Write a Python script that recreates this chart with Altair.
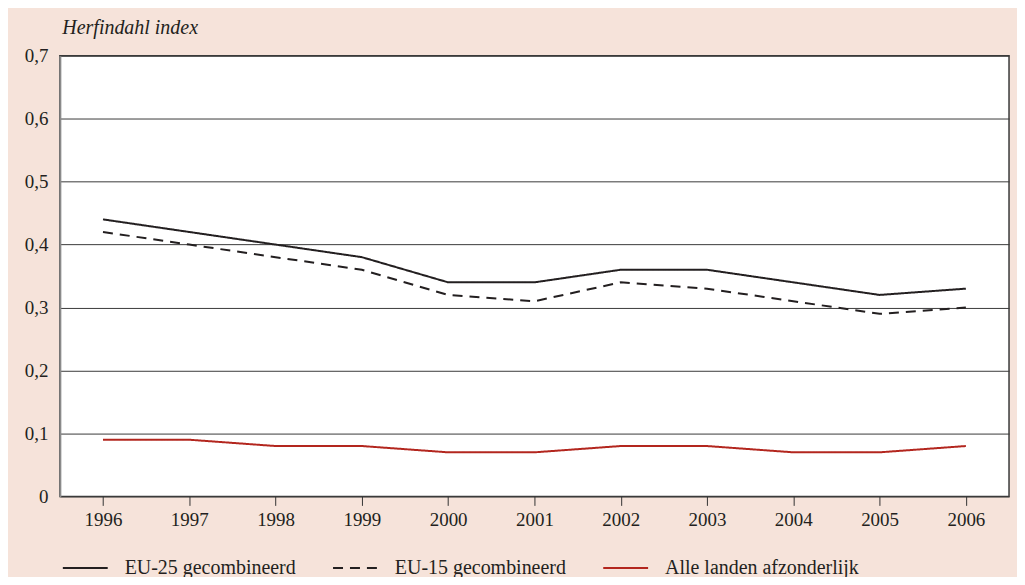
import altair as alt
import pandas as pd

years = [1996, 1997, 1998, 1999, 2000, 2001, 2002, 2003, 2004, 2005, 2006]
eu25 = [0.44, 0.42, 0.40, 0.38, 0.34, 0.34, 0.36, 0.36, 0.34, 0.32, 0.33]
eu15 = [0.42, 0.40, 0.38, 0.36, 0.32, 0.31, 0.34, 0.33, 0.31, 0.29, 0.30]
alle = [0.09, 0.09, 0.08, 0.08, 0.07, 0.07, 0.08, 0.08, 0.07, 0.07, 0.08]
series_names = ["EU-25 gecombineerd", "EU-15 gecombineerd", "Alle landen afzonderlijk"]
series_colors = ["#231f20", "#231f20", "#b3261e"]
series_dash = [[1, 0], [10, 7], [1, 0]]
y_ticks = [0, 0.1, 0.2, 0.3, 0.4, 0.5, 0.6, 0.7]

rows = []
for name, vals in zip(series_names, [eu25, eu15, alle]):
    for y, v in zip(years, vals):
        rows.append({"jaar": y, "waarde": v, "reeks": name})
df = pd.DataFrame(rows)

FONT = "Liberation Serif"

legend_kw = dict(
    title=None,
    orient="none",
    legendX=2,
    legendY=490,
    direction="horizontal",
    columns=3,
    gridAlign="all",
    symbolType="stroke",
    symbolSize=2025,
    symbolStrokeWidth=2,
    labelOffset=16,
    labelLimit=400,
    columnPadding=10,
    labelFont=FONT,
    labelFontSize=20,
    labelColor="#231f20",
)

chart = alt.Chart(df).mark_line(strokeWidth=2).encode(
    x=alt.X(
        "jaar:Q",
        scale=alt.Scale(domain=[1995.5, 2006.5], nice=False, zero=False),
        axis=alt.Axis(
            values=years,
            format="d",
            title=None,
            grid=False,
            ticks=True,
            tickSize=9,
            tickColor="#333333",
            domain=False,
            labelFont=FONT,
            labelFontSize=19,
            labelColor="#231f20",
            labelPadding=5,
        ),
    ),
    y=alt.Y(
        "waarde:Q",
        scale=alt.Scale(domain=[0, 0.7], nice=False),
        axis=alt.Axis(
            values=y_ticks,
            labelExpr="datum.value == 0 ? '0' : replace(format(datum.value, '.1f'), '.', ',')",
            title="Herfindahl index",
            titleAngle=0,
            titleAlign="left",
            titleBaseline="alphabetic",
            titleX=2,
            titleY=-22,
            titleFont=FONT,
            titleFontSize=20,
            titleFontStyle="italic",
            titleFontWeight="normal",
            titleColor="#231f20",
            grid=True,
            gridColor="#3a3a3a",
            gridWidth=1,
            ticks=False,
            tickSize=0,
            domain=True,
            domainColor="#8a8a8a",
            domainWidth=2,
            labelFont=FONT,
            labelFontSize=19,
            labelColor="#231f20",
            labelPadding=12,
        ),
    ),
    color=alt.Color(
        "reeks:N",
        scale=alt.Scale(domain=series_names, range=series_colors),
        legend=alt.Legend(**legend_kw),
    ),
    strokeDash=alt.StrokeDash(
        "reeks:N",
        scale=alt.Scale(domain=series_names, range=series_dash),
        legend=alt.Legend(**legend_kw),
    ),
).properties(
    width=952,
    height=442,
    autosize=alt.AutoSizeParams(type="none"),
    padding={"left": 52, "top": 47, "right": 8, "bottom": 80},
    background="#f6e3da",
).configure_view(
    fill="white",
    stroke="#3a3a3a",
    strokeWidth=1.5,
)

chart.save("out.html", embed_options={"renderer": "svg", "actions": False})
